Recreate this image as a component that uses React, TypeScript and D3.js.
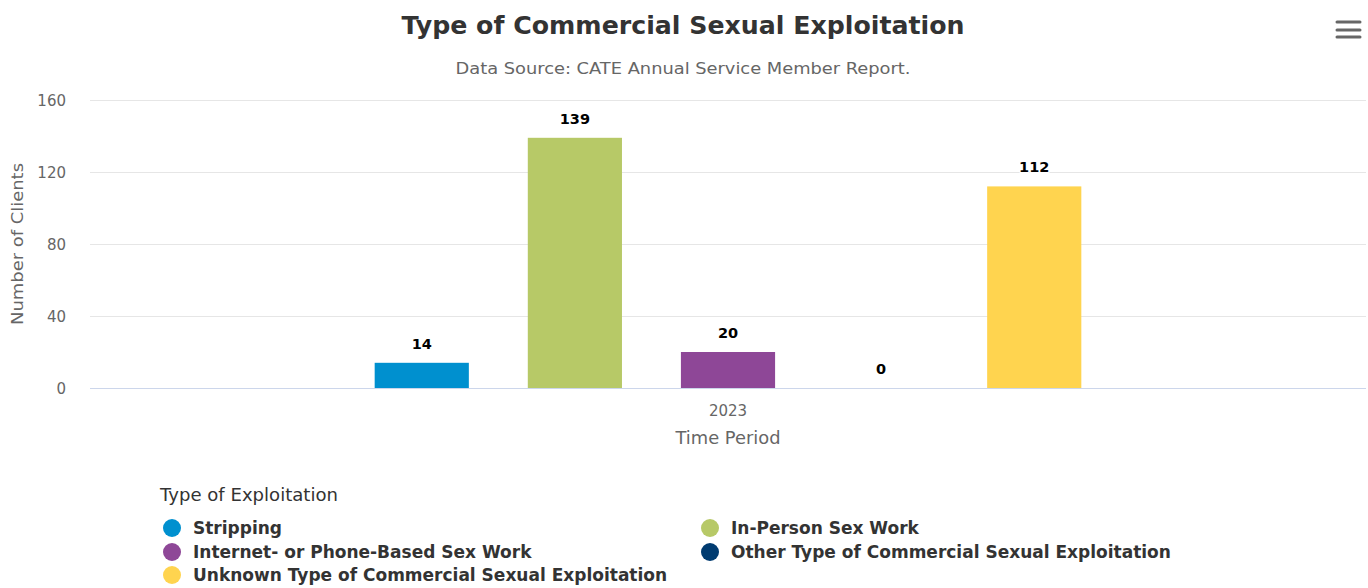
import React from "react";
import * as d3 from "d3";

const categories = ["2023"];
const seriesNames = [
  "Stripping",
  "In-Person Sex Work",
  "Internet- or Phone-Based Sex Work",
  "Other Type of Commercial Sexual Exploitation",
  "Unknown Type of Commercial Sexual Exploitation",
];
const seriesValues = [14, 139, 20, 0, 112];
const seriesColors = ["#0090CF", "#B7C967", "#8E4797", "#003B70", "#FFD44F"];
const yTicks = [0, 40, 80, 120, 160];

const W = 1368;
const H = 588;
const FONT = "'DejaVu Sans', sans-serif";

export default function App() {
  const left = 90;
  const right = 1366;
  const top = 100;
  const bottom = 388;

  const y = d3.scaleLinear().domain([0, 160]).range([bottom, top]);
  const x0 = d3.scaleBand<string>().domain(categories).range([left, right]);
  const groupPad = 0.2;
  const bw0 = x0.bandwidth();
  const x1 = d3
    .scaleBand<string>()
    .domain(seriesNames)
    .range([bw0 * groupPad, bw0 * (1 - groupPad)])
    .paddingInner(0.385)
    .paddingOuter(0.1925);

  const legendCols = [163, 701];
  const legendRows = [528, 552, 575];

  return (
    <svg
      width={W}
      height={H}
      style={{ position: "absolute", left: 0, top: 0, background: "#fff" }}
      fontFamily={FONT}
    >
      <rect width={W} height={H} fill="#fff" />
      <text x={683} y={34} textAnchor="middle" fontSize={25.5} fontWeight="bold" fill="#333" textLength={563} lengthAdjust="spacingAndGlyphs">
        Type of Commercial Sexual Exploitation
      </text>
      <text x={683} y={74} textAnchor="middle" fontSize={16} fill="#666" textLength={455} lengthAdjust="spacingAndGlyphs">
        Data Source: CATE Annual Service Member Report.
      </text>
      {/* menu icon */}
      <g stroke="#666" strokeWidth={3} strokeLinecap="round">
        {[22, 30, 37].map((yy) => (
          <line key={yy} x1={1337} x2={1360} y1={yy} y2={yy} />
        ))}
      </g>
      {/* grid */}
      {yTicks.map((t) => (
        <g key={t}>
          <line
            x1={left}
            x2={right}
            y1={Math.round(y(t)) + 0.5}
            y2={Math.round(y(t)) + 0.5}
            stroke={t === 0 ? "#ccd6eb" : "#e6e6e6"}
            strokeWidth={1}
          />
          <text x={66} y={y(t) + 5.5} textAnchor="end" fontSize={15} fill="#666">
            {t}
          </text>
        </g>
      ))}
      <text
        transform={`translate(23,${(top + bottom) / 2}) rotate(-90)`}
        textAnchor="middle"
        fontSize={16}
        fill="#666"
        textLength={162}
        lengthAdjust="spacingAndGlyphs"
      >
        Number of Clients
      </text>
      {categories.map((c) => (
        <g key={c} transform={`translate(${x0(c)},0)`}>
          {seriesNames.map((s, i) => {
            const v = seriesValues[i];
            const bx = x1(s)!;
            return (
              <g key={s}>
                <rect x={bx} y={y(v)} width={x1.bandwidth()} height={bottom - y(v)} fill={seriesColors[i]} />
                <text
                  x={bx + x1.bandwidth() / 2}
                  y={y(v) - 14}
                  textAnchor="middle"
                  fontSize={14.5}
                  fontWeight="bold"
                  fill="#000"
                  stroke="#fff"
                  strokeWidth={2}
                  paintOrder="stroke"
                >
                  {v}
                </text>
              </g>
            );
          })}
          <text x={bw0 / 2} y={416} textAnchor="middle" fontSize={15} fill="#666">
            {c}
          </text>
        </g>
      ))}
      <text x={(left + right) / 2} y={444} textAnchor="middle" fontSize={17} fill="#666" textLength={105} lengthAdjust="spacingAndGlyphs">
        Time Period
      </text>
      {/* legend */}
      <text x={160} y={501} fontSize={17} fill="#333" textLength={178} lengthAdjust="spacingAndGlyphs">
        Type of Exploitation
      </text>
      {seriesNames.map((s, i) => {
        const col = i % 2;
        const row = Math.floor(i / 2);
        const lx = legendCols[col];
        const ly = legendRows[row];
        return (
          <g key={s}>
            <circle cx={lx + 9} cy={ly} r={9} fill={seriesColors[i]} />
            <text x={lx + 30} y={ly + 6} fontSize={17} fontWeight="bold" fill="#333">
              {s}
            </text>
          </g>
        );
      })}
    </svg>
  );
}
